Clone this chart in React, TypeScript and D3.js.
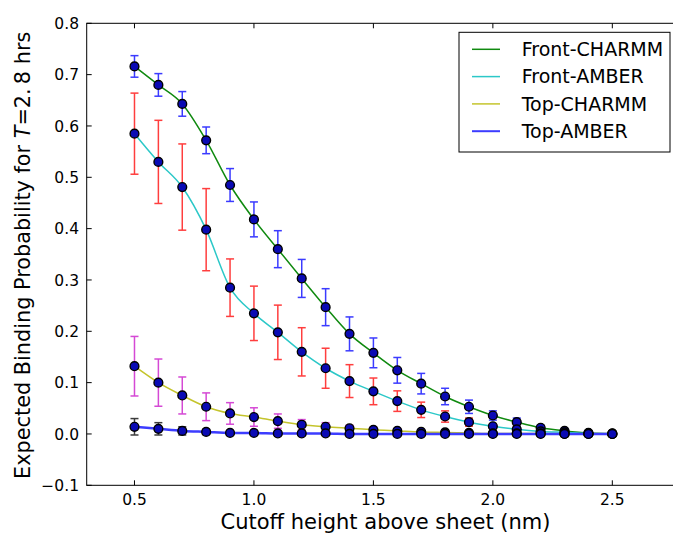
import React from "react";
import * as d3 from "d3";

const cutoff = [0.5, 0.6, 0.7, 0.8, 0.9, 1.0, 1.1, 1.2, 1.3, 1.4, 1.5, 1.6, 1.7, 1.8, 1.9, 2.0, 2.1, 2.2, 2.3, 2.4, 2.5];

const frontCharmm = [0.716, 0.680, 0.643, 0.572, 0.485, 0.418, 0.360, 0.303, 0.247, 0.195, 0.158, 0.124, 0.098, 0.073, 0.053, 0.036, 0.023, 0.012, 0.006, 0.002, 0.001];
const frontCharmmErr = [0.021, 0.022, 0.024, 0.026, 0.032, 0.034, 0.036, 0.037, 0.036, 0.033, 0.029, 0.025, 0.020, 0.016, 0.013, 0.009, 0.008, 0.005, 0.003, 0.002, 0.001];

const frontAmber = [0.585, 0.530, 0.481, 0.398, 0.285, 0.235, 0.198, 0.160, 0.128, 0.103, 0.083, 0.064, 0.047, 0.034, 0.023, 0.015, 0.009, 0.005, 0.003, 0.001, 0.000];
const frontAmberErr = [0.079, 0.081, 0.084, 0.080, 0.056, 0.053, 0.053, 0.047, 0.039, 0.032, 0.026, 0.020, 0.015, 0.011, 0.008, 0.005, 0.004, 0.002, 0.001, 0.001, 0.000];

const topCharmm = [0.132, 0.100, 0.075, 0.053, 0.040, 0.033, 0.025, 0.018, 0.014, 0.011, 0.008, 0.006, 0.004, 0.003, 0.002, 0.001, 0.001, 0.001, 0.000, 0.000, 0.000];
const topCharmmErr = [0.058, 0.046, 0.036, 0.027, 0.021, 0.018, 0.014, 0.010, 0.008, 0.006, 0.005, 0.004, 0.003, 0.002, 0.001, 0.001, 0.000, 0.000, 0.000, 0.000, 0.000];

const topAmber = [0.014, 0.010, 0.006, 0.004, 0.002, 0.002, 0.001, 0.001, 0.001, 0.000, 0.000, 0.000, 0.000, 0.000, 0.000, 0.000, 0.000, 0.000, 0.000, 0.000, 0.000];
const topAmberErr = [0.016, 0.012, 0.008, 0.005, 0.003, 0.002, 0.002, 0.001, 0.001, 0.000, 0.000, 0.000, 0.000, 0.000, 0.000, 0.000, 0.000, 0.000, 0.000, 0.000, 0.000];

const xTicks = [0.5, 1.0, 1.5, 2.0, 2.5];
const yTicks = [-0.1, 0.0, 0.1, 0.2, 0.3, 0.4, 0.5, 0.6, 0.7, 0.8];

const seriesNames = ["Front-CHARMM", "Front-AMBER", "Top-CHARMM", "Top-AMBER"];
const lineColors = ["#108a10", "#2cc8c8", "#c4c42c", "#3c3cff"];
const errColors = ["#2020ff", "#ff2424", "#d030d0", "#222222"];
const lineWidths = [1.5, 1.5, 1.5, 2.5];

const W = 673;
const H = 534;
const left = 86.7;
const right = 684;
const top = 23.3;
const bottom = 485.3;

const FONT = "DejaVu Sans";

export default function App() {
  const x = d3.scaleLinear().domain([0.3, 2.8]).range([left, right]);
  const y = d3.scaleLinear().domain([-0.1, 0.8]).range([bottom, top]);

  const values = [frontCharmm, frontAmber, topCharmm, topAmber];
  const errs = [frontCharmmErr, frontAmberErr, topCharmmErr, topAmberErr];

  const line = d3
    .line<number>()
    .x((_, i) => x(cutoff[i]))
    .y((d) => y(d))
    .curve(d3.curveMonotoneX);

  const fmt = (v: number) => (v < 0 ? "\u2212" : "") + Math.abs(v).toFixed(1);
  const cap = 4;
  const tickLen = 5;

  return (
    <svg
      width={W}
      height={H}
      style={{ position: "absolute", left: 0, top: 0, background: "#fff" }}
      fontFamily={FONT}
    >
      <rect x={0} y={0} width={W} height={H} fill="#fff" />
      <defs>
        <clipPath id="plotclip">
          <rect x={left} y={top} width={right - left} height={bottom - top} />
        </clipPath>
      </defs>

      <g clipPath="url(#plotclip)">
        {values.map((vals, s) => (
          <g key={"err" + s} stroke={errColors[s]} strokeWidth={1.5} fill="none" opacity={0.88}>
            {vals.map((v, i) => {
              const cx = x(cutoff[i]);
              const y1 = y(v + errs[s][i]);
              const y2 = y(v - errs[s][i]);
              return (
                <g key={i}>
                  <line x1={cx} x2={cx} y1={y1} y2={y2} />
                  <line x1={cx - cap} x2={cx + cap} y1={y1} y2={y1} />
                  <line x1={cx - cap} x2={cx + cap} y1={y2} y2={y2} />
                </g>
              );
            })}
          </g>
        ))}
        {values.map((vals, s) => (
          <path key={"ln" + s} d={line(vals) || ""} fill="none" stroke={lineColors[s]} strokeWidth={lineWidths[s]} />
        ))}
        {values.map((vals, s) => (
          <g key={"mk" + s}>
            {vals.map((v, i) => (
              <circle key={i} cx={x(cutoff[i])} cy={y(v)} r={4.4} fill="#0a0ab4" stroke="#000" strokeWidth={1.4} />
            ))}
          </g>
        ))}
      </g>

      <rect x={left} y={top} width={right - left} height={bottom - top} fill="none" stroke="#000" strokeWidth={1} />

      {xTicks.map((t) => (
        <g key={"xt" + t}>
          <line x1={x(t)} x2={x(t)} y1={bottom} y2={bottom - tickLen} stroke="#000" />
          <line x1={x(t)} x2={x(t)} y1={top} y2={top + tickLen} stroke="#000" />
          <text x={x(t)} y={504.5} textAnchor="middle" fontSize={15.5} fill="#000">
            {t.toFixed(1)}
          </text>
        </g>
      ))}

      {yTicks.map((t) => (
        <g key={"yt" + t}>
          <line x1={left} x2={left + tickLen} y1={y(t)} y2={y(t)} stroke="#000" />
          <text x={79} y={y(t)} dy="0.36em" textAnchor="end" fontSize={15.5} fill="#000">
            {fmt(t)}
          </text>
        </g>
      ))}

      <text x={385.5} y={529} textAnchor="middle" fontSize={21} fill="#000">
        Cutoff height above sheet (nm)
      </text>
      <text
        transform={`translate(22, ${(top + bottom) / 2 + 1}) rotate(-90)`}
        textAnchor="middle"
        dy="0.36em"
        fontSize={20.8}
        fill="#000"
      >
        Expected Binding Probability for{" "}
        <tspan fontStyle="italic">T</tspan>
        <tspan>{"=2.\u20098"}</tspan> hrs
      </text>

      <rect x={459} y={32.3} width={211} height={119.7} fill="#fff" stroke="#000" strokeWidth={1} />
      {seriesNames.map((name, s) => {
        const cy = 49.3 + s * 27.3;
        return (
          <g key={"lg" + s}>
            <line x1={472} x2={500} y1={cy} y2={cy} stroke={lineColors[s]} strokeWidth={lineWidths[s] === 2.5 ? 2 : 1.5} />
            <text x={521.7} y={cy} dy="0.36em" fontSize={19} fill="#000">
              {name}
            </text>
          </g>
        );
      })}
    </svg>
  );
}
